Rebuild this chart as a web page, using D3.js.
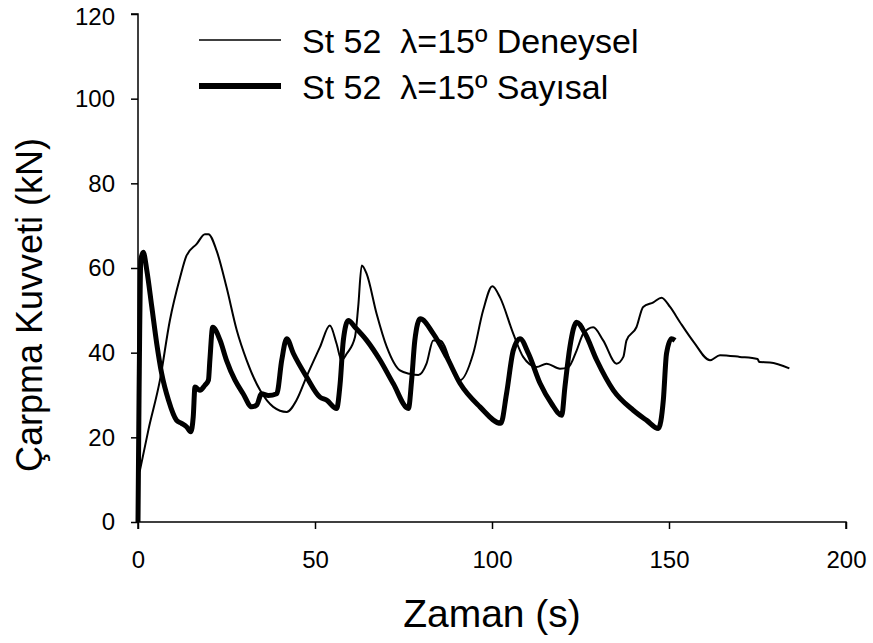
<!DOCTYPE html>
<html>
<head>
<meta charset="utf-8">
<script src="https://cdn.jsdelivr.net/npm/d3@7"></script>
<style>
    body { margin: 0; background: #fff; }
    text { font-family: "Liberation Sans", Arial, sans-serif; fill: #000; }
</style>
</head>
<body>
<svg id="chart"></svg>
<script>
// experimental curve (Deneysel) - time (s) / force (kN)
const deneyselTime = [0.5, 3, 6.2, 9, 11.9, 13.7, 16.6, 18.9, 19.9, 22.2, 25, 27.9, 30.7, 34.5, 38.2, 42, 44.8,
    47.6, 51.4, 54.2, 56.1, 57.5, 59, 61.3, 62.2, 63.2, 64.6, 67.4, 70.3, 74, 76.8, 79.2, 81.5, 83.4, 85.3, 90, 91,
    94.7, 97.5, 100.1, 102.3, 106, 108.8, 112.6, 115.4, 119.2, 121.6, 123.9, 125.8, 128.6, 131.4, 135.2, 137.1,
    138, 140.8, 142.7, 145.6, 147.9, 150.3, 153.1, 157, 161.6, 164.4, 170, 175, 175.5, 178.5, 184];
const deneyselForce = [12, 22, 33.5, 47.6, 57.8, 62.9, 65.7, 68, 68, 64.1, 55.5, 45.3, 38.2, 31.1, 27.2, 26, 28.8,
    34.3, 41.3, 46.4, 42.1, 38.2, 39.8, 43.7, 50.8, 60.6, 58.6, 49.2, 41.3, 35.8, 35, 34.7, 37.4, 42.9, 42.9, 34.3, 33.5,
    39.8, 50, 55.7, 53, 44.5, 39, 36.6, 37.4, 36.2, 36.6, 40.5, 44.5, 46, 42.9, 37.4, 39,
    42.9, 46, 50.8, 51.9, 53, 50.8, 47.2, 42.5, 38.2, 39.4, 39, 38.5, 37.8, 37.7, 36.3];

// numerical curve (Sayısal)
const sayisalTime = [0, 0.3, 0.8, 1.5, 2.5, 3.9, 5.3, 6.7, 8.6, 10.9, 12.3, 13.7, 14.9, 15.6, 16.1, 17.5, 18.9, 19.9,
    20.3, 21.1, 23.2, 25, 27.4, 29.7, 32.1, 33.5, 34.9, 36.8, 39.2, 40.6, 42, 43.9, 47.6, 51.4, 53.3, 56.1, 57.1, 58,
    59.4, 61.3, 64.6, 68.4, 72.1, 76.4, 77.3, 78.2, 79.7, 83.4, 87.2, 91, 96.6, 102.5, 104.1, 106, 107.9, 110.3,
    113.6, 116.8, 119.7, 120.6, 122, 123.9, 126.3, 129.6, 134.3, 139.9, 143.7, 147, 148.4, 149.3, 150.7, 151.7];
const sayisalForce = [0, 30, 62, 63.7, 59.4, 50.8, 42.1, 35, 28.8, 24, 23.3, 22.5, 21.3, 24.8, 31.9, 31.1, 32.3, 33.5,
    38.2, 46, 42.9, 38.2, 33.5, 30.3, 27.2, 27.6, 30.3, 29.9, 30.3, 38.2, 43.3, 39.8, 34.3, 29.5, 28.8, 26.8, 32.7, 42.9,
    47.6, 46, 42.9, 38.2, 32.7, 26.8, 33.5, 42.9, 48, 44.5, 39, 32.7, 27.2, 23.3, 30.3, 40.5, 43.3, 39.8,
    32.7, 28, 25.2, 31.9, 41.3, 47.2, 44.5, 38.2, 31.1, 26.4, 24, 22.1, 28.8, 39.8, 43.3, 42.9];

const xTicks = [0, 50, 100, 150, 200];
const yTicks = [0, 20, 40, 60, 80, 100, 120];
const seriesNames = ["St 52  \u03bb=15\u00ba Deneysel", "St 52  \u03bb=15\u00ba Sayısal"];

const config = {
    containerWidth: 873,
    containerHeight: 643,
    margin: {top: 14, right: 27, bottom: 121, left: 138}
};

const width = config.containerWidth - config.margin.left - config.margin.right;
const height = config.containerHeight - config.margin.top - config.margin.bottom;

const svg = d3.select("#chart")
    .attr("width", config.containerWidth)
    .attr("height", config.containerHeight);

const chartArea = svg.append("g")
    .attr("transform", `translate(${config.margin.left},${config.margin.top})`);

const xScale = d3.scaleLinear().domain([0, 200]).range([0, width]);
const yScale = d3.scaleLinear().domain([0, 120]).range([height, 0]);

const xAxis = d3.axisBottom(xScale).tickValues(xTicks).tickSize(7).tickPadding(22);
const yAxis = d3.axisLeft(yScale).tickValues(yTicks).tickSize(7).tickPadding(16);

const xAxisG = chartArea.append("g")
    .attr("transform", `translate(0,${height})`)
    .call(xAxis);
const yAxisG = chartArea.append("g").call(yAxis);

[xAxisG, yAxisG].forEach(g => {
    g.selectAll("path, line").attr("stroke", "#000").attr("stroke-width", 1.5);
    g.selectAll("text")
        .attr("font-family", "Liberation Sans, Arial, sans-serif")
        .attr("font-size", 24)
        .attr("fill", "#000");
});
// plain L shaped domain lines
xAxisG.select(".domain").attr("d", `M0,7V0H${width}V7`);
yAxisG.select(".domain").attr("d", `M-7,0H0V${height}`);
// top label sits right on the edge, nudge it down slightly
yAxisG.selectAll(".tick text").filter(d => d === 120).attr("dy", "0.42em");

const line = d3.line()
    .curve(d3.curveMonotoneX)
    .x(d => xScale(d[0]))
    .y(d => yScale(d[1]));

const deneysel = deneyselTime.map((t, i) => [t, deneyselForce[i]]);
const sayisal = sayisalTime.map((t, i) => [t, sayisalForce[i]]);

chartArea.append("path")
    .datum(deneysel)
    .attr("fill", "none")
    .attr("stroke", "#000")
    .attr("stroke-width", 2)
    .attr("stroke-linejoin", "round")
    .attr("d", line);

chartArea.append("path")
    .datum(sayisal)
    .attr("fill", "none")
    .attr("stroke", "#000")
    .attr("stroke-width", 5)
    .attr("stroke-linejoin", "round")
    .attr("d", line);

// legend
const legend = svg.append("g");
const legendRows = [
    {name: seriesNames[0], y: 40, w: 1.3},
    {name: seriesNames[1], y: 86, w: 6}
];
legendRows.forEach(r => {
    legend.append("line")
        .attr("x1", 199).attr("x2", 281)
        .attr("y1", r.y).attr("y2", r.y)
        .attr("stroke", "#000")
        .attr("stroke-width", r.w);
    legend.append("text")
        .attr("x", 302)
        .attr("y", r.y + 13)
        .attr("font-size", 34)
        .style("white-space", "pre")
        .text(r.name);
});

// axis titles
svg.append("text")
    .attr("x", config.margin.left + width / 2)
    .attr("y", 627)
    .attr("text-anchor", "middle")
    .attr("font-size", 39)
    .text("Zaman (s)");

svg.append("text")
    .attr("transform", "translate(42,305) rotate(-90)")
    .attr("text-anchor", "middle")
    .attr("font-size", 36)
    .text("Çarpma Kuvveti (kN)");
</script>
</body>
</html>
